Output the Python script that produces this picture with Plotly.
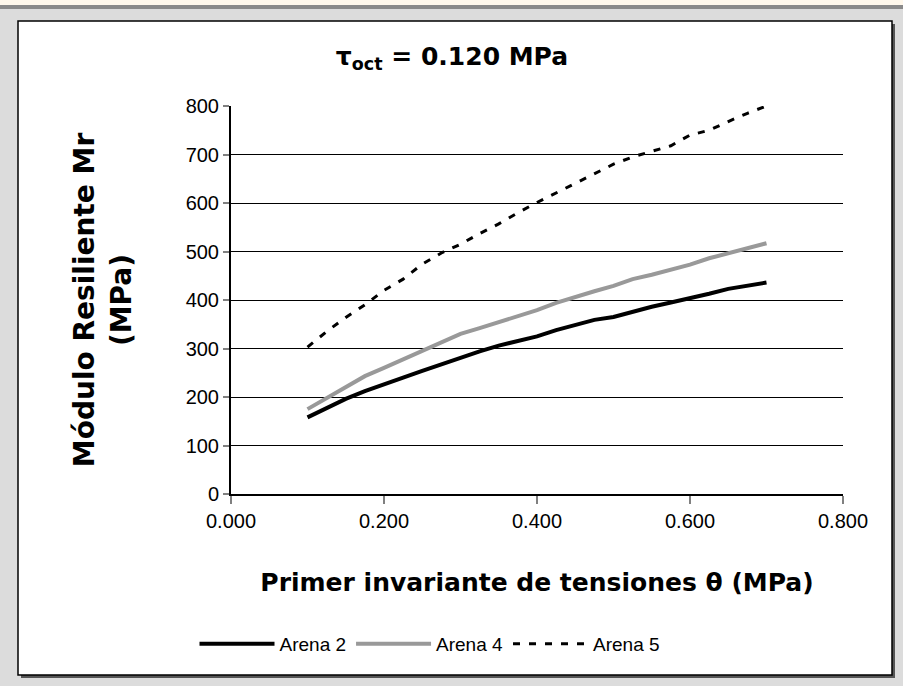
import plotly.graph_objects as go

theta = [0.100, 0.125, 0.150, 0.175, 0.200, 0.225, 0.250, 0.275, 0.300, 0.325,
         0.350, 0.375, 0.400, 0.425, 0.450, 0.475, 0.500, 0.525, 0.550, 0.575,
         0.600, 0.625, 0.650, 0.675, 0.700]
arena2 = [158, 178, 196, 212, 227, 240, 254, 268, 281, 294,
          306, 316, 325, 338, 349, 359, 365, 376, 386, 395,
          403, 413, 423, 430, 436]
arena4 = [175, 198, 222, 243, 260, 277, 294, 311, 330, 342,
          354, 367, 379, 394, 407, 418, 429, 443, 452, 462,
          473, 486, 497, 507, 517]
arena5 = [303, 335, 364, 390, 420, 443, 474, 497, 515, 537,
          557, 580, 601, 621, 641, 660, 680, 695, 706, 718,
          740, 750, 768, 785, 800]

x_ticks = [0.0, 0.2, 0.4, 0.6, 0.8]
x_tick_labels = ["0.000", "0.200", "0.400", "0.600", "0.800"]
y_ticks = [0, 100, 200, 300, 400, 500, 600, 700, 800]

FONT = "Liberation Sans, Arial, sans-serif"
BOLD = "DejaVu Sans, Verdana, sans-serif"

# plot area in pixels
L, R, T, B = 231, 843, 106, 494
W, H = 903, 686
pw, ph = R - L, B - T


def px(x):
    return (x - L) / pw


def py(y):
    return (B - y) / ph


fig = go.Figure()
fig.add_trace(go.Scatter(x=theta, y=arena2, mode="lines", name="Arena 2",
                         line=dict(color="black", width=4)))
fig.add_trace(go.Scatter(x=theta, y=arena4, mode="lines", name="Arena 4",
                         line=dict(color="#999999", width=4)))
fig.add_trace(go.Scatter(x=theta, y=arena5, mode="lines", name="Arena 5",
                         line=dict(color="black", width=3, dash="7px,9px")))

shapes = [
    # cream top strip
    dict(type="rect", xref="paper", yref="paper", x0=px(0), x1=px(W), y0=py(0), y1=py(5),
         fillcolor="#fff8ec", line=dict(width=0), layer="below"),
    # dark gray bar
    dict(type="rect", xref="paper", yref="paper", x0=px(0), x1=px(W), y0=py(5), y1=py(9),
         fillcolor="#8a8a8a", line=dict(width=0), layer="below"),
    # shadow
    dict(type="rect", xref="paper", yref="paper", x0=px(21), x1=px(895), y0=py(24), y1=py(678),
         fillcolor="#555555", line=dict(width=0), layer="below"),
    # white chart box
    dict(type="rect", xref="paper", yref="paper", x0=px(18), x1=px(892), y0=py(21), y1=py(675),
         fillcolor="white", line=dict(color="black", width=1.5), layer="below"),
]

fig.update_layout(
    width=W, height=H,
    margin=dict(l=L, r=W - R, t=T, b=H - B, pad=0),
    paper_bgcolor="#dcdcdc",
    plot_bgcolor="rgba(0,0,0,0)",
    font=dict(family=FONT, color="black", size=19),
    title=dict(text="<b>τ<sub>oct</sub> = 0.120 MPa</b>",
               x=452 / W, y=1 - 56 / H, xanchor="center", yanchor="middle",
               xref="container", yref="container",
               font=dict(size=25, family=BOLD, color="black")),
    showlegend=True,
    legend=dict(orientation="h", x=px(430), xanchor="center", y=py(644), yanchor="middle",
                font=dict(size=19, family=FONT), bgcolor="rgba(0,0,0,0)",
                itemwidth=75, tracegroupgap=0),
    shapes=shapes,
)

fig.update_xaxes(
    range=[0, 0.8], tickvals=x_ticks, ticktext=x_tick_labels,
    showgrid=False, zeroline=False,
    showline=True, linecolor="black", linewidth=1.5,
    ticks="outside", ticklen=8, tickcolor="#808080", tickwidth=1.5,
    tickfont=dict(size=20, family=FONT),
    title=dict(text="<b>Primer invariante de tensiones θ (MPa)</b>",
               font=dict(size=25, family=BOLD), standoff=43),
)
fig.update_yaxes(
    range=[0, 800], tickvals=y_ticks,
    showgrid=True, gridcolor="black", gridwidth=1, zeroline=False,
    showline=True, linecolor="black", linewidth=2,
    ticks="outside", ticklen=6, tickcolor="#808080", tickwidth=1.5,
    tickfont=dict(size=20, family=FONT),
    title=dict(text="<b>Módulo Resiliente Mr<br>(MPa)</b>",
               font=dict(size=28, family=BOLD), standoff=46),
)

fig.write_html("out.html", config={"displayModeBar": False},
               post_script="document.body.style.margin='0';")
